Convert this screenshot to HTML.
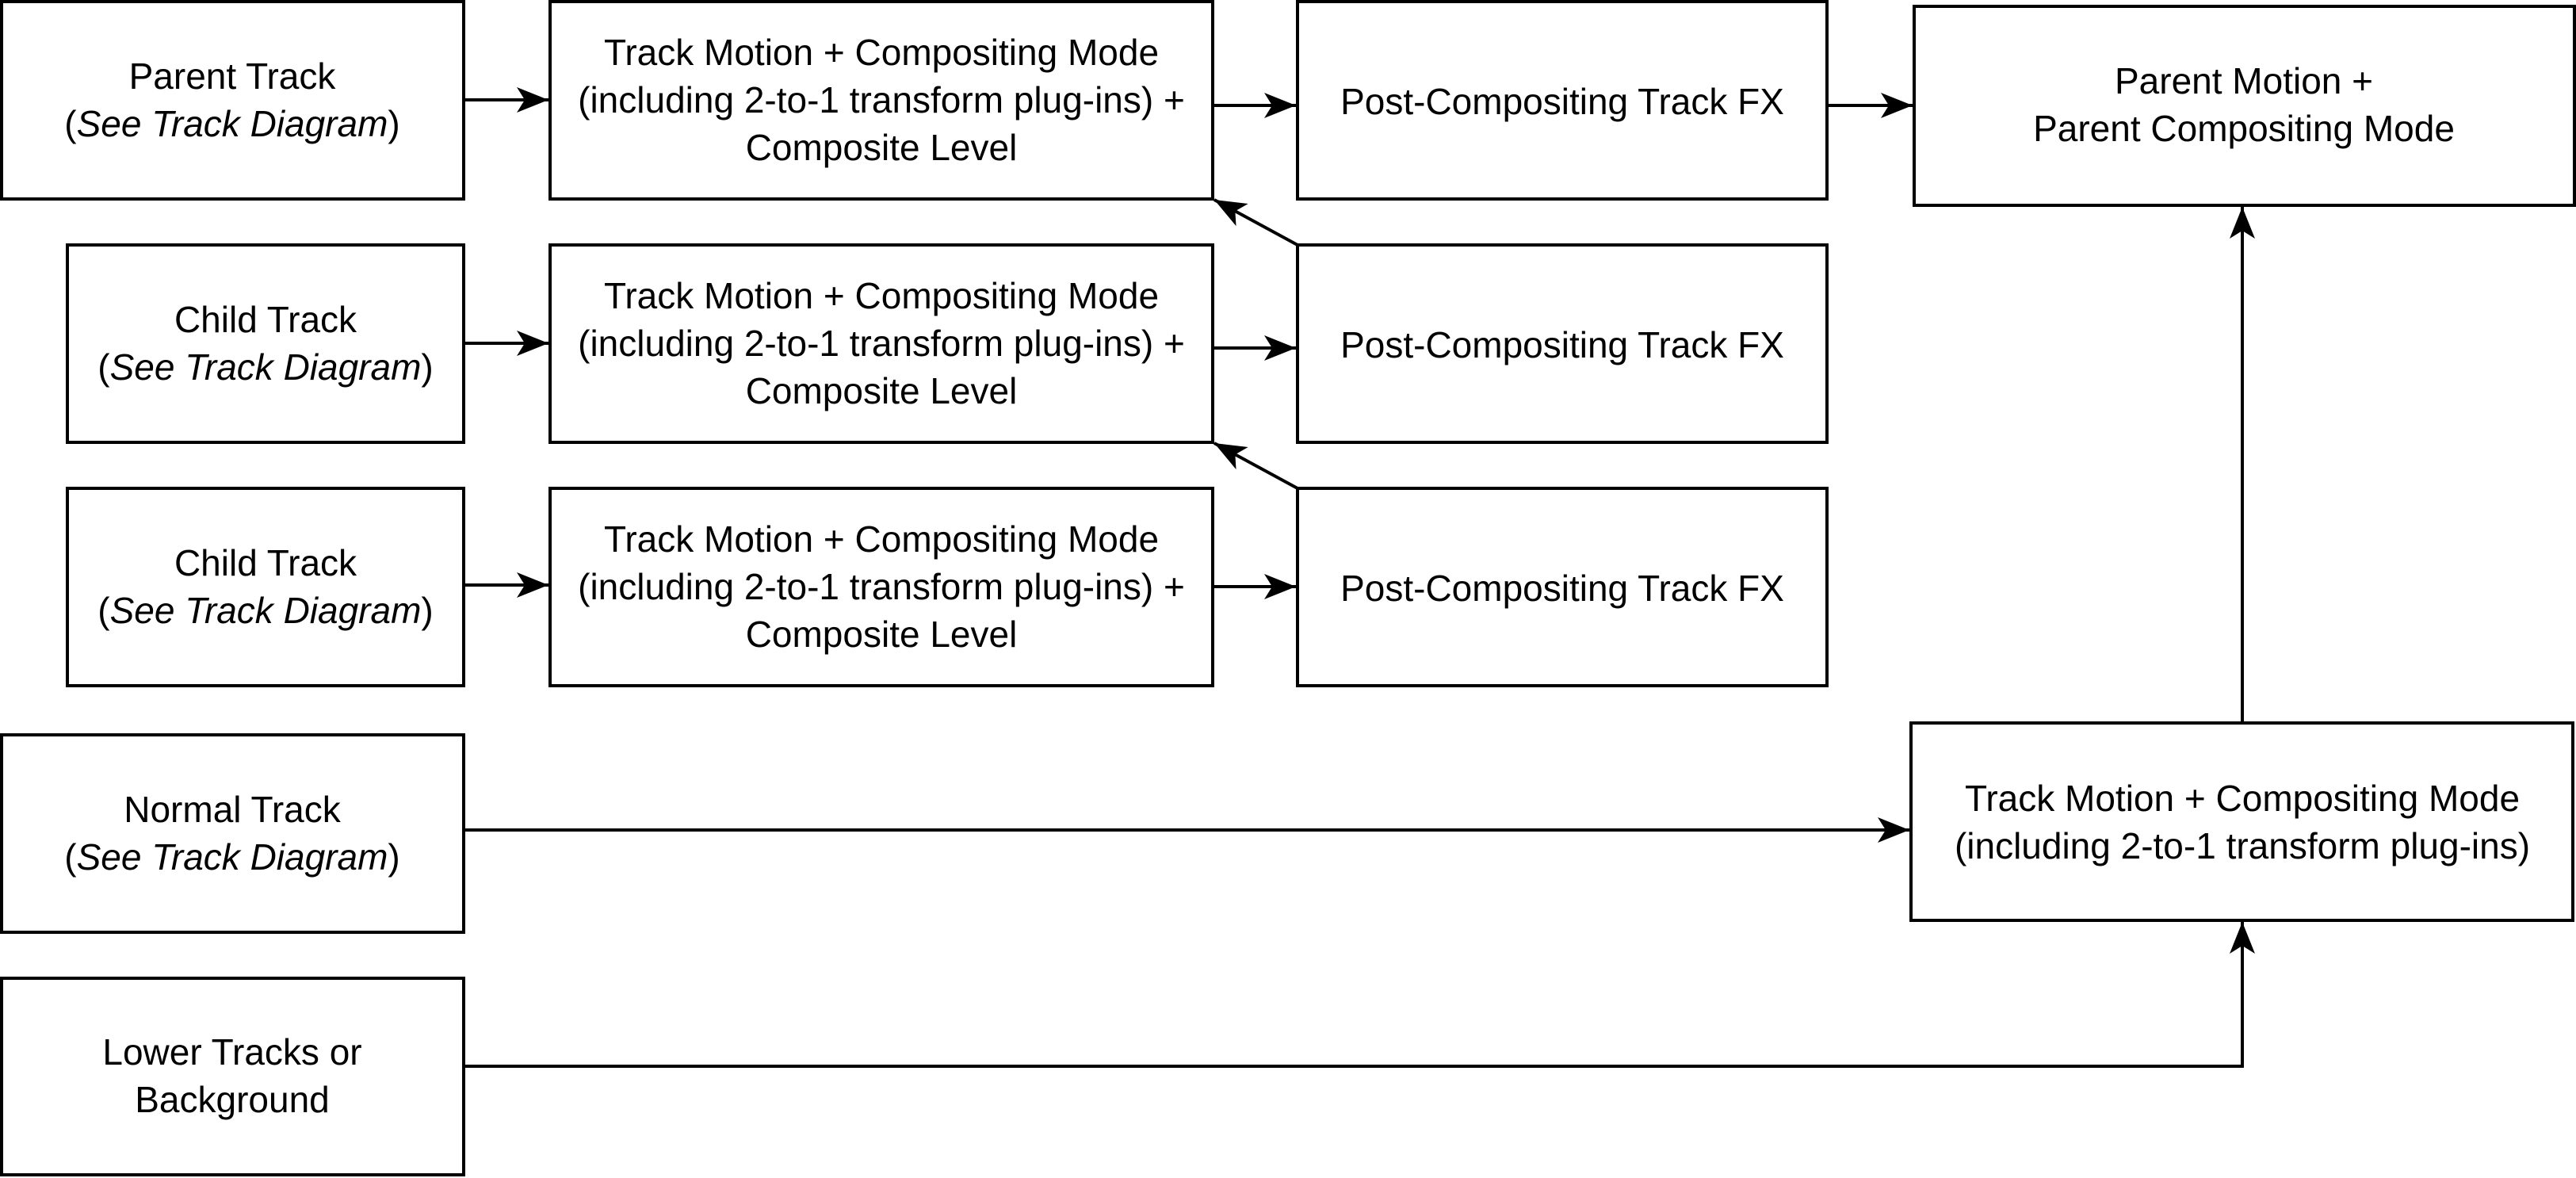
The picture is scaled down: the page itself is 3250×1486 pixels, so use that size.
<!DOCTYPE html>
<html><head><meta charset="utf-8"><style>
html,body{margin:0;padding:0;background:#fff;}
svg{display:block;}
text{font-family:"Liberation Sans",sans-serif;font-size:46px;fill:#000;text-anchor:middle;}
</style></head><body>
<svg width="3250" height="1486" viewBox="0 0 3250 1486" xmlns="http://www.w3.org/2000/svg">
<defs>
<marker id="ar" viewBox="0 0 20 16" refX="20" refY="8" markerWidth="40" markerHeight="32" orient="auto" markerUnits="userSpaceOnUse">
<path d="M0,0 L20,8 L0,16 L5,8 Z" fill="#000"/>
</marker>
</defs>
<g fill="#fff" stroke="#000" stroke-width="4">
<rect x="2" y="2" width="583" height="249"/>
<rect x="694" y="2" width="836" height="249"/>
<rect x="1637" y="2" width="668" height="249"/>
<rect x="2415" y="8" width="833" height="251"/>
<rect x="85" y="309" width="500" height="249"/>
<rect x="694" y="309" width="836" height="249"/>
<rect x="1637" y="309" width="668" height="249"/>
<rect x="85" y="616" width="500" height="249"/>
<rect x="694" y="616" width="836" height="249"/>
<rect x="1637" y="616" width="668" height="249"/>
<rect x="2" y="927" width="583" height="249"/>
<rect x="2" y="1234" width="583" height="248"/>
<rect x="2411" y="912" width="835" height="249"/>
</g>
<g stroke="#000" stroke-width="4" fill="none" marker-end="url(#ar)">
<line x1="585" y1="126" x2="692" y2="126"/>
<line x1="1530" y1="133" x2="1635" y2="133"/>
<line x1="2305" y1="133" x2="2413" y2="133"/>
<line x1="585" y1="433" x2="692" y2="433"/>
<line x1="1530" y1="439" x2="1635" y2="439"/>
<line x1="585" y1="738" x2="692" y2="738"/>
<line x1="1530" y1="740" x2="1635" y2="740"/>
<line x1="1637" y1="309" x2="1532" y2="252"/>
<line x1="1637" y1="616" x2="1532" y2="559"/>
<line x1="585" y1="1047" x2="2409" y2="1047"/>
<polyline points="585,1345 2829,1345 2829,1163"/>
<line x1="2829" y1="912" x2="2829" y2="261"/>
</g>
<text x="293" y="112">Parent Track</text>
<text x="293" y="172">(<tspan font-style="italic">See Track Diagram</tspan>)</text>
<text x="1112" y="82">Track Motion + Compositing Mode</text>
<text x="1112" y="142">(including 2-to-1 transform plug-ins) +</text>
<text x="1112" y="202">Composite Level</text>
<text x="1971" y="144">Post-Compositing Track FX</text>
<text x="2831" y="118">Parent Motion +</text>
<text x="2831" y="178">Parent Compositing Mode</text>
<text x="335" y="419">Child Track</text>
<text x="335" y="479">(<tspan font-style="italic">See Track Diagram</tspan>)</text>
<text x="1112" y="389">Track Motion + Compositing Mode</text>
<text x="1112" y="449">(including 2-to-1 transform plug-ins) +</text>
<text x="1112" y="509">Composite Level</text>
<text x="1971" y="451">Post-Compositing Track FX</text>
<text x="335" y="726">Child Track</text>
<text x="335" y="786">(<tspan font-style="italic">See Track Diagram</tspan>)</text>
<text x="1112" y="696">Track Motion + Compositing Mode</text>
<text x="1112" y="756">(including 2-to-1 transform plug-ins) +</text>
<text x="1112" y="816">Composite Level</text>
<text x="1971" y="758">Post-Compositing Track FX</text>
<text x="293" y="1037">Normal Track</text>
<text x="293" y="1097">(<tspan font-style="italic">See Track Diagram</tspan>)</text>
<text x="293" y="1343">Lower Tracks or</text>
<text x="293" y="1403">Background</text>
<text x="2829" y="1023">Track Motion + Compositing Mode</text>
<text x="2829" y="1083">(including 2-to-1 transform plug-ins)</text>
</svg>
</body></html>
